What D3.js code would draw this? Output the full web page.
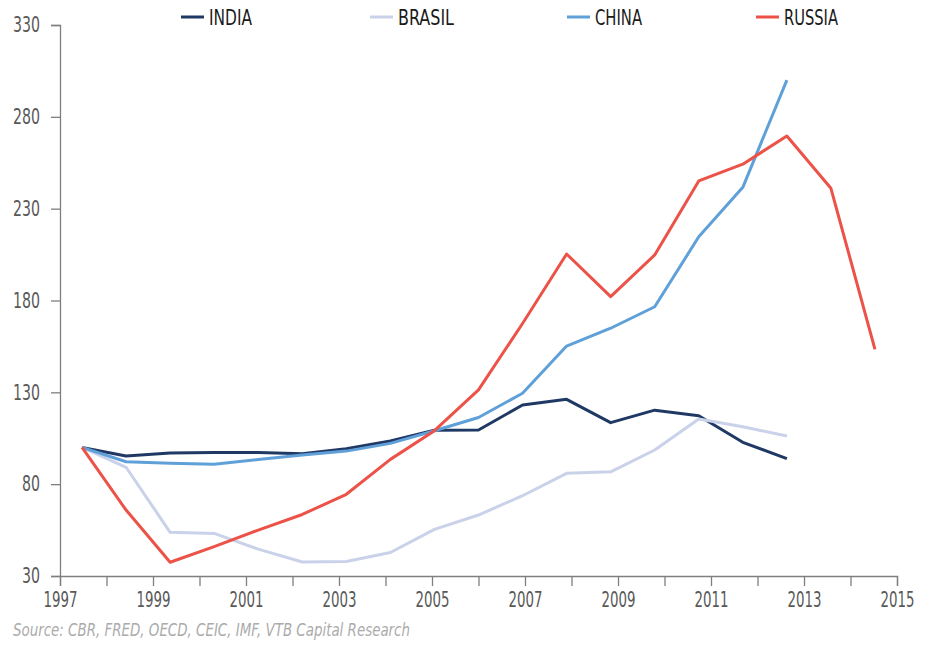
<!DOCTYPE html>
<html>
<head>
<meta charset="utf-8">
<script src="https://cdn.jsdelivr.net/npm/d3@7"></script>
<style>
  body { margin: 0; background: #fff; }
  svg { display: block; }
  .tick text { font-family: "DejaVu Sans Condensed", "DejaVu Sans", sans-serif; fill: #595959; }
</style>
</head>
<body>
<div id="chart"></div>
<script>
// category positions for the data (one per year), axis labels drawn on a separate year scale
const periods = [1997, 1998, 1999, 2000, 2001, 2002, 2003, 2004, 2005, 2006,
                 2007, 2008, 2009, 2010, 2011, 2012, 2013, 2014, 2015];
const yTicks = [30, 80, 130, 180, 230, 280, 330];
const xTickYears = d3.range(1997, 2016);

const india  = [100, 95.3, 97, 97.3, 97.2, 96.6, 99.3, 103.5, 109.4, 109.5, 123.1, 126.2, 113.5, 120.3, 117.3, 102.8, 93.9];
const brasil = [100, 89.2, 53.8, 53.2, 44.6, 37.6, 37.9, 42.8, 55.4, 63.2, 73.7, 85.9, 86.7, 98.6, 115.5, 111.3, 106.2];
const china  = [100, 92.2, 91.4, 90.9, 93.4, 95.9, 98, 102.2, 109.1, 116.3, 129.5, 155.2, 164.9, 176.6, 214.7, 241.6, 300];
const russia = [100, 65.9, 37.5, 46, 55, 63.5, 74.5, 93.5, 109.1, 131.3, 167.5, 205.3, 182.1, 204.8, 245.1, 254.2, 269.6, 241.1, 153.4];

const seriesNames  = ['INDIA', 'BRASIL', 'CHINA', 'RUSSIA'];
const seriesColors = ['#1f3864', '#c9d2e9', '#5fa0d8', '#ec5248'];
const seriesValues = [india, brasil, china, russia];
const legendX = [181, 370, 567, 756];
const legendW = [43, 56, 47, 54];

const width = 931,
    height = 646;
const plotLeft = 60, plotRight = 897, plotTop = 25, plotBottom = 576;
const fontFam = '"DejaVu Sans Condensed", "DejaVu Sans", sans-serif';

const svg = d3.select('#chart').append('svg')
    .attr('width', width)
    .attr('height', height);

const xBand = d3.scaleBand()
    .domain(periods)
    .range([plotLeft, plotRight]);

const xYear = d3.scaleLinear()
    .domain([1997, 2015])
    .range([plotLeft, plotRight]);

const y = d3.scaleLinear()
    .domain([30, 330])
    .range([plotBottom, plotTop]);

// y axis
const yAxis = svg.append('g')
    .attr('transform', 'translate(' + plotLeft + ',0)')
    .call(d3.axisLeft(y).tickValues(yTicks).tickSize(9).tickPadding(11));
yAxis.selectAll('text')
    .style('font-size', '21px')
    .attr('textLength', d => String(d).length * 9)
    .attr('lengthAdjust', 'spacingAndGlyphs');

// x axis
const xAxis = svg.append('g')
    .attr('transform', 'translate(0,' + plotBottom + ')')
    .call(d3.axisBottom(xYear)
        .tickValues(xTickYears)
        .tickSize(10)
        .tickPadding(5)
        .tickFormat(function(d) { return (d - 1997) % 2 === 0 ? d : ''; }));
xAxis.selectAll('text')
    .style('font-size', '22px')
    .filter(d => (d - 1997) % 2 === 0)
    .attr('textLength', 34)
    .attr('lengthAdjust', 'spacingAndGlyphs');

[yAxis, xAxis].forEach(a => {
    a.select('.domain').attr('stroke', '#7f7f7f').attr('stroke-width', 1.3);
    a.selectAll('.tick line').attr('stroke', '#7f7f7f').attr('stroke-width', 1.3);
});

const line = d3.line()
    .x((d, i) => xBand(periods[i]) + xBand.bandwidth() / 2)
    .y(d => y(d));

seriesValues.forEach((vals, k) => {
    svg.append('path')
        .datum(vals)
        .attr('d', line)
        .attr('fill', 'none')
        .attr('stroke', seriesColors[k])
        .attr('stroke-width', 3)
        .attr('stroke-linejoin', 'round');
});

// legend
const legend = svg.append('g').attr('class', 'legend');
seriesNames.forEach((name, k) => {
    legend.append('line')
        .attr('x1', legendX[k]).attr('x2', legendX[k] + 23)
        .attr('y1', 17).attr('y2', 17)
        .attr('stroke', seriesColors[k])
        .attr('stroke-width', 3);
    legend.append('text')
        .attr('x', legendX[k] + 28)
        .attr('y', 25)
        .attr('font-family', fontFam)
        .attr('font-size', '21px')
        .attr('fill', '#1a1a1a')
        .attr('textLength', legendW[k])
        .attr('lengthAdjust', 'spacingAndGlyphs')
        .text(name);
});

// source note
svg.append('text')
    .attr('x', 13)
    .attr('y', 636)
    .attr('font-family', fontFam)
    .attr('font-style', 'italic')
    .attr('font-size', '17px')
    .attr('fill', '#ababab')
    .attr('textLength', 397)
    .attr('lengthAdjust', 'spacingAndGlyphs')
    .text('Source: CBR, FRED, OECD, CEIC, IMF, VTB Capital Research');
</script>
</body>
</html>
